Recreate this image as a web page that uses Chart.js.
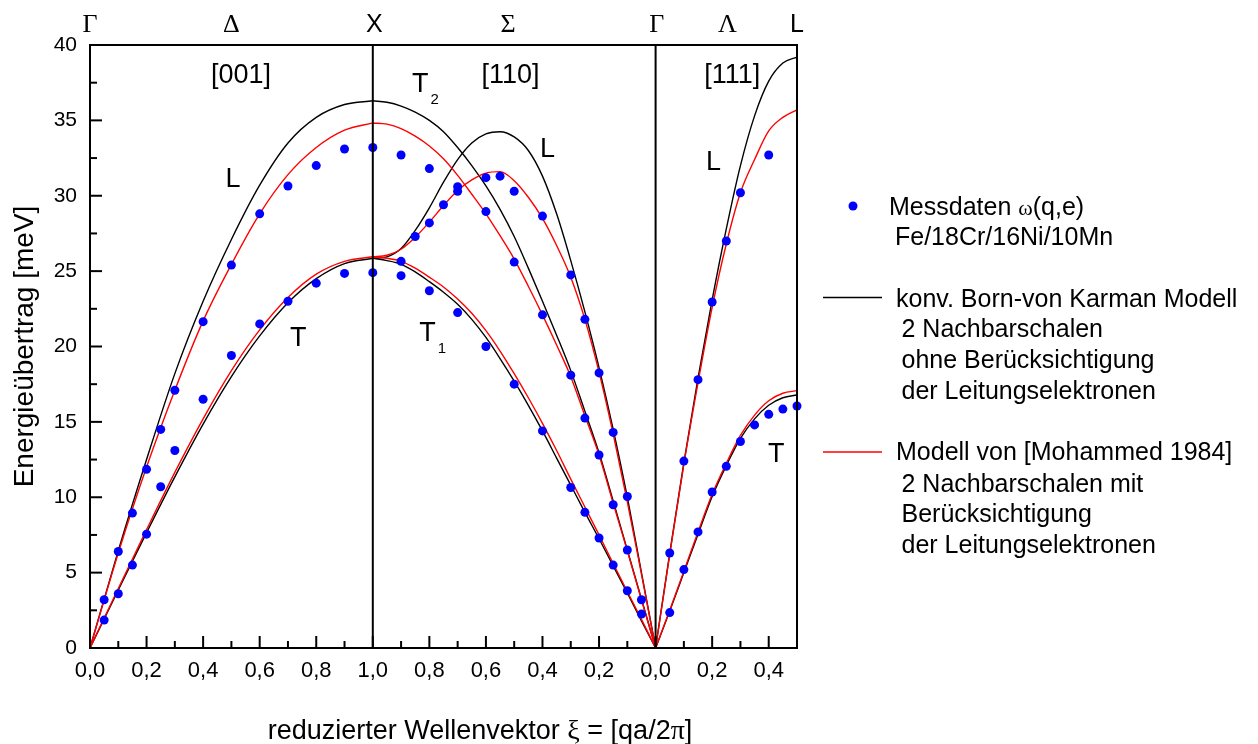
<!DOCTYPE html>
<html><head><meta charset="utf-8">
<script src="https://cdn.jsdelivr.net/npm/chart.js@4.4.1/dist/chart.umd.min.js"></script>
<style>html,body{margin:0;padding:0;background:#fff;}#wrap{width:1258px;height:744px;position:relative;}</style>
</head><body><div id="wrap"><canvas id="c"></canvas></div>
<script>
// ---------- tick labels ----------
const xTickPos = [0,0.2,0.4,0.6,0.8,1.0,1.2,1.4,1.6,1.8,2.0,2.2,2.4];
const xTickLabels = ['0,0','0,2','0,4','0,6','0,8','1,0','0,8','0,6','0,4','0,2','0,0','0,2','0,4'];
const yTickPos = [0,5,10,15,20,25,30,35,40];
const yTickLabels = ['0','5','10','15','20','25','30','35','40'];
const pointLabels = ['Γ','Δ','X','Σ','Γ','Λ','L'];
const pointLabelPos = [0,0.5,1.005,1.478,2.004,2.254,2.5];

// ---------- measured data (blue dots) ----------
const dDeltaXi = [0.05,0.1,0.15,0.2,0.25,0.3,0.4,0.5,0.6,0.7,0.8,0.9,1.0];
const dDeltaL  = [3.2,6.4,8.95,11.85,14.5,17.1,21.65,25.4,28.8,30.65,32.0,33.1,33.2];
const dDeltaT  = [1.85,3.6,5.5,7.55,10.7,13.1,16.5,19.4,21.5,23.0,24.2,24.85,24.9];
const dSigT2Xi = [0.9,0.8,0.7,0.6,0.5,0.4,0.3,0.25,0.2,0.15,0.1,0.05];
const dSigT2   = [32.7,31.8,30.6,28.95,25.6,22.1,18.1,15.25,12.8,9.5,6.5,3.2];
const dSigLXi  = [0.9,0.85,0.8,0.75,0.7,0.6,0.55,0.5,0.4,0.3,0.25,0.2,0.15,0.1];
const dSigL    = [25.65,27.3,28.2,29.4,30.3,31.2,31.3,30.3,28.65,24.75,21.8,18.25,14.3,10.05];
const dSigT1Xi = [0.9,0.8,0.7,0.6,0.5,0.4,0.3,0.25,0.2,0.15,0.1,0.05];
const dSigT1   = [24.7,23.7,22.25,20.0,17.5,14.4,10.65,9.0,7.3,5.5,3.8,2.25];
const dLamLXi  = [0.05,0.1,0.15,0.2,0.25,0.3,0.4];
const dLamL    = [6.3,12.4,17.8,22.95,27.0,30.2,32.7];
const dLamTXi  = [0.05,0.1,0.15,0.2,0.25,0.3,0.35,0.4,0.45,0.5];
const dLamT    = [2.35,5.2,7.7,10.35,12.05,13.7,14.8,15.5,15.85,16.05];

// ---------- model curves ----------
const cDeltaXi = [0,0.1,0.2,0.3,0.4,0.5,0.6,0.7,0.8,0.9,1.0];
const bvkDeltaL = [0,6.45,12.5,18.2,23.0,27.1,30.7,33.5,35.2,36.05,36.3];
const bvkDeltaT = [0,3.85,7.65,11.35,14.85,18.0,20.7,22.9,24.5,25.5,25.85];
const mohDeltaL = [0,6.3,12.0,17.1,21.7,25.45,28.8,31.4,33.2,34.35,34.83];
const mohDeltaT = [0,3.95,7.85,11.65,15.2,18.4,21.1,23.25,24.8,25.65,25.95];

const cSigXi = [1.0,0.95,0.9,0.85,0.8,0.75,0.7,0.65,0.6,0.55,0.5,0.45,0.4,0.35,0.3,0.25,0.2,0.15,0.1,0.05,0];
const bvkSigT2 = [36.3,36.2,35.95,35.55,35.0,34.25,33.2,32.0,30.65,29.1,27.3,25.2,23.0,20.75,18.4,15.7,12.95,9.75,6.5,3.25,0];
const bvkSigL  = [25.85,25.95,26.5,27.7,29.2,30.9,32.4,33.5,34.1,34.25,33.9,33.0,31.3,28.8,25.7,22.3,18.6,14.5,10.0,5.0,0];
const bvkSigT1 = [25.85,25.7,25.45,24.95,24.3,23.6,22.8,21.8,20.6,19.2,17.7,16.1,14.4,12.6,10.8,9.0,7.25,5.45,3.65,1.8,0];
const mohSigT2 = [34.83,34.75,34.45,33.95,33.3,32.45,31.35,30.1,28.8,27.35,25.8,24.0,22.1,20.1,18.0,15.4,12.8,9.6,6.45,3.2,0];
const mohSigL  = [25.95,26.05,26.45,27.25,28.25,29.35,30.35,31.05,31.5,31.6,31.0,29.9,28.5,26.7,24.6,21.8,18.3,14.2,9.7,4.9,0];
const mohSigT1 = [25.95,25.85,25.65,25.2,24.6,23.95,23.15,22.2,21.05,19.7,18.2,16.6,14.9,13.1,11.2,9.35,7.5,5.6,3.75,1.9,0];

const cLamXi = [0,0.05,0.1,0.15,0.2,0.25,0.3,0.35,0.4,0.45,0.5];
const bvkLamL = [0,6.3,12.3,17.9,23.1,27.8,32.0,35.3,37.6,38.8,39.2];
const bvkLamT = [0,2.45,5.0,7.55,10.05,12.1,13.9,15.2,16.1,16.6,16.78];
const mohLamL = [0,6.2,12.2,17.6,22.6,26.8,30.2,32.4,34.3,35.2,35.7];
const mohLamT = [0,2.5,5.1,7.7,10.2,12.25,14.1,15.45,16.4,16.9,17.07];

// ---------- build ----------
const FONT = '"Liberation Sans", Arial, sans-serif';
const SERIF = '"Liberation Serif", "Times New Roman", serif';
const mapDelta = xi => xi, mapSigma = xi => 2 - xi, mapLambda = xi => 2 + xi;
function pts(xis, es, map) {
  return xis.map((xi, i) => ({x: map(xi), y: es[i]})).sort((a, b) => a.x - b.x);
}
const dots = [].concat(
  pts(dDeltaXi, dDeltaL, mapDelta), pts(dDeltaXi, dDeltaT, mapDelta),
  pts(dSigT2Xi, dSigT2, mapSigma), pts(dSigLXi, dSigL, mapSigma), pts(dSigT1Xi, dSigT1, mapSigma),
  pts(dLamLXi, dLamL, mapLambda), pts(dLamTXi, dLamT, mapLambda));

function curve(label, data, color) {
  return {label, data, showLine: true, pointRadius: 0, borderColor: color, borderWidth: 1.4,
    cubicInterpolationMode: 'monotone', fill: false, clip: false};
}
const RED = '#ff0000', BLACK = '#000000';
const datasets = [
  {label: 'Messdaten', data: dots, pointRadius: 4.5, pointBackgroundColor: '#0000ff', pointBorderWidth: 0, showLine: false, clip: false},
  curve('moh ΔL', pts(cDeltaXi, mohDeltaL, mapDelta), RED),
  curve('moh ΔT', pts(cDeltaXi, mohDeltaT, mapDelta), RED),
  curve('moh ΣT2', pts(cSigXi, mohSigT2, mapSigma), RED),
  curve('moh ΣL', pts(cSigXi, mohSigL, mapSigma), RED),
  curve('moh ΣT1', pts(cSigXi, mohSigT1, mapSigma), RED),
  curve('moh ΛL', pts(cLamXi, mohLamL, mapLambda), RED),
  curve('moh ΛT', pts(cLamXi, mohLamT, mapLambda), RED),
  curve('bvk ΔL', pts(cDeltaXi, bvkDeltaL, mapDelta), BLACK),
  curve('bvk ΔT', pts(cDeltaXi, bvkDeltaT, mapDelta), BLACK),
  curve('bvk ΣT2', pts(cSigXi, bvkSigT2, mapSigma), BLACK),
  curve('bvk ΣL', pts(cSigXi, bvkSigL, mapSigma), BLACK),
  curve('bvk ΣT1', pts(cSigXi, bvkSigT1, mapSigma), BLACK),
  curve('bvk ΛL', pts(cLamXi, bvkLamL, mapLambda), BLACK),
  curve('bvk ΛT', pts(cLamXi, bvkLamT, mapLambda), BLACK)
];

// annotations: [text, s, E (baseline), size, subscript]
const annotations = [
  ['[001]', 0.534, 37.45, 27, ''], ['[110]', 1.487, 37.45, 27, ''], ['[111]', 2.271, 37.45, 27, ''],
  ['L', 0.506, 30.6, 27, ''], ['T', 0.736, 20.03, 27, ''],
  ['T', 1.168, 36.9, 27, '2'], ['L', 1.618, 32.57, 27, ''],
  ['T', 1.193, 20.38, 27, '1'], ['L', 2.205, 31.71, 27, ''], ['T', 2.427, 12.36, 27, '']
];

// x axis title pieces: [text, serif?]
const xTitleParts = [['reduzierter Wellenvektor ', false], ['ξ', true], [' = [qa/2', false], ['π', true], [']', false]];

const framePlugin = {
  id: 'frame',
  afterDraw(chart) {
    const ctx = chart.ctx, a = chart.chartArea, xs = chart.scales.x, ys = chart.scales.y;
    ctx.save();
    ctx.strokeStyle = '#000'; ctx.lineWidth = 2; ctx.lineCap = 'butt';
    ctx.strokeRect(a.left, a.top, a.right - a.left, a.bottom - a.top);
    [1, 2].forEach(v => { const px = xs.getPixelForValue(v); ctx.beginPath(); ctx.moveTo(px, a.top); ctx.lineTo(px, a.bottom); ctx.stroke(); });
    // inward ticks
    for (let i = 0; i <= 25; i++) {
      const px = xs.getPixelForValue(i / 10); const len = i % 2 === 0 ? 12 : 7;
      ctx.beginPath(); ctx.moveTo(px, a.bottom); ctx.lineTo(px, a.bottom - len); ctx.stroke();
    }
    for (let i = 0; i <= 16; i++) {
      const py = ys.getPixelForValue(i * 2.5); const len = i % 2 === 0 ? 12 : 7;
      ctx.beginPath(); ctx.moveTo(a.left, py); ctx.lineTo(a.left + len, py); ctx.stroke();
    }
    // symmetry point labels
    ctx.fillStyle = '#000'; ctx.textAlign = 'center'; ctx.textBaseline = 'alphabetic';
    pointLabels.forEach((t, i) => {
      const sans = (t === 'X' || t === 'L');
      ctx.font = sans ? '25px ' + FONT : '26px ' + SERIF;
      ctx.fillText(t, xs.getPixelForValue(pointLabelPos[i]), a.top - 13.5);
    });
    // annotations
    annotations.forEach(([t, s, e, size, sub]) => {
      ctx.font = size + 'px ' + FONT; ctx.textAlign = 'center';
      const px = xs.getPixelForValue(s), py = ys.getPixelForValue(e);
      ctx.fillText(t, px, py);
      if (sub) {
        const w = ctx.measureText(t).width;
        ctx.font = '15px ' + FONT; ctx.textAlign = 'left';
        ctx.fillText(sub, px + w / 2 + 2, py + 12);
      }
    });
    // x axis title (centred like the reference, Greek letters in serif)
    ctx.textAlign = 'left';
    const fnt = serif => serif ? '28px ' + SERIF : '27px ' + FONT;
    let total = 0;
    xTitleParts.forEach(([t, s]) => { ctx.font = fnt(s); total += ctx.measureText(t).width; });
    let tx = 480 - total / 2;
    xTitleParts.forEach(([t, s]) => { ctx.font = fnt(s); ctx.fillText(t, tx, 738.5); tx += ctx.measureText(t).width; });
    // legend
    ctx.fillStyle = '#0000ff'; ctx.beginPath(); ctx.arc(853, 206, 4.5, 0, Math.PI * 2); ctx.fill();
    ctx.lineWidth = 1.5;
    ctx.strokeStyle = BLACK; ctx.beginPath(); ctx.moveTo(823, 297.5); ctx.lineTo(882, 297.5); ctx.stroke();
    ctx.strokeStyle = RED; ctx.beginPath(); ctx.moveTo(823, 452); ctx.lineTo(882, 452); ctx.stroke();
    ctx.fillStyle = '#000';
    ctx.font = '25px ' + FONT;
    let x = 889; ctx.fillText('Messdaten ', x, 215); x += ctx.measureText('Messdaten ').width;
    ctx.font = '22px ' + SERIF; ctx.fillText('ω', x, 215); x += ctx.measureText('ω').width;
    ctx.font = '25px ' + FONT; ctx.fillText('(q,e)', x, 215);
    const lines = [
      ['Fe/18Cr/16Ni/10Mn', 895, 245],
      ['konv. Born-von Karman Modell', 896, 306.5],
      ['2 Nachbarschalen', 901.5, 337], ['ohne Berücksichtigung', 901.5, 368], ['der Leitungselektronen', 901.5, 399],
      ['Modell von [Mohammed 1984]', 896, 460],
      ['2 Nachbarschalen mit', 901.5, 491.5], ['Berücksichtigung', 901.5, 522], ['der Leitungselektronen', 901.5, 552.5]
    ];
    lines.forEach(([t, lx, ly]) => ctx.fillText(t, lx, ly));
    ctx.restore();
  }
};

new Chart(document.getElementById('c'), {
  type: 'scatter',
  data: {datasets},
  options: {
    responsive: true, maintainAspectRatio: false, animation: false,
    layout: {padding: {left: 0, top: 45, right: 461, bottom: 0}},
    plugins: {legend: {display: false}, tooltip: {enabled: false}},
    scales: {
      x: {
        type: 'linear', min: 0, max: 2.5,
        afterBuildTicks: sc => { sc.ticks = xTickPos.map(v => ({value: v})); },
        afterFit: sc => { sc.height = 96; },
        grid: {display: false, drawTicks: false, tickLength: 0},
        border: {display: false},
        ticks: {color: '#000', font: {family: FONT, size: 22}, padding: 10, maxRotation: 0, autoSkip: false,
          callback: (v) => { const i = xTickPos.findIndex(p => Math.abs(p - v) < 1e-6); return i >= 0 ? xTickLabels[i] : ''; }},
        title: {display: false}
      },
      y: {
        type: 'linear', min: 0, max: 40,
        afterBuildTicks: sc => { sc.ticks = yTickPos.map(v => ({value: v})); },
        afterFit: sc => { sc.width = 90; },
        grid: {display: false, drawTicks: false, tickLength: 0},
        border: {display: false},
        ticks: {color: '#000', font: {family: FONT, size: 21}, padding: 13,
          callback: (v) => { const i = yTickPos.indexOf(v); return i >= 0 ? yTickLabels[i] : ''; }},
        title: {display: true, text: 'Energieübertrag [meV]', color: '#000',
          font: {family: FONT, size: 28, lineHeight: 1}, padding: {top: 11, bottom: 0}}
      }
    }
  },
  plugins: [framePlugin]
});
</script></body></html>
